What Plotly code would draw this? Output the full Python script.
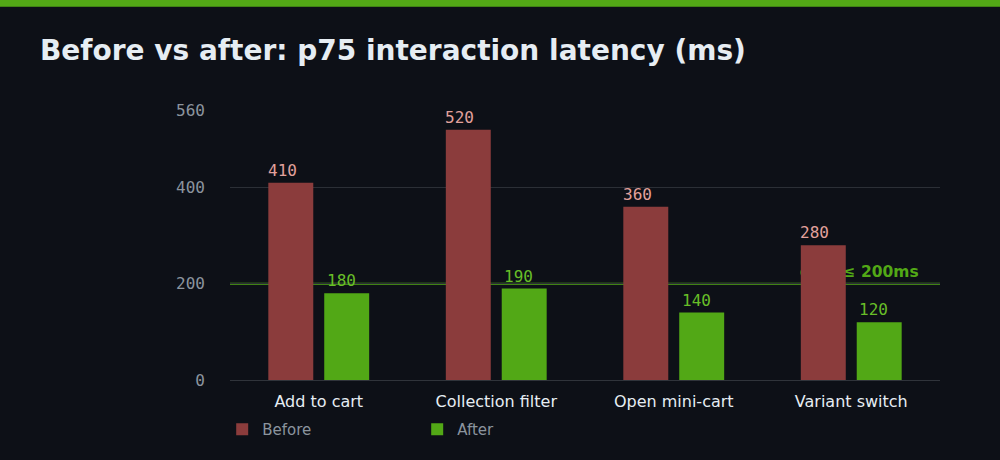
import plotly.graph_objects as go

categories = ['Add to cart', 'Collection filter', 'Open mini-cart', 'Variant switch']
before = [410, 520, 360, 280]
after = [180, 190, 140, 120]
goal = 200
y_ticks = [0, 200, 400, 560]

bg = '#0d1017'
red = '#8b3c3c'
green = '#52a816'

fig = go.Figure()

fig.add_trace(go.Bar(x=categories, y=before, name='Before', marker_color=red,
                     marker_line_width=0))
fig.add_trace(go.Bar(x=categories, y=after, name='After', marker_color=green,
                     marker_line_width=0))

# value labels, left-aligned on each bar
for cat, b, a in zip(categories, before, after):
    fig.add_annotation(x=cat, y=b, text=str(b), showarrow=False, xanchor='left',
                       yanchor='bottom', xshift=-53, yshift=1,
                       font=dict(family='DejaVu Sans Mono', size=16, color='#e2a19c'))
    fig.add_annotation(x=cat, y=a, text=str(a), showarrow=False, xanchor='left',
                       yanchor='bottom', xshift=6, yshift=1,
                       font=dict(family='DejaVu Sans Mono', size=16, color='#68be28'))

# goal line, behind the bars
fig.add_shape(type='line', xref='paper', x0=0, x1=1, y0=goal, y1=goal,
              line=dict(color=green, width=2), layer='below')
# its label, ending a little before the right edge (also behind the bars)
fig.add_shape(type='line', xref='paper', x0=0, x1=0.97, y0=goal, y1=goal,
              line=dict(color='rgba(0,0,0,0)', width=0), layer='below',
              label=dict(text='goal ≤ 200ms', textposition='end', xanchor='right',
                         yanchor='bottom', padding=4,
                         font=dict(family='DejaVu Sans', size=15.5, color=green,
                                   weight='bold')))

# green strip across the top
fig.add_shape(type='rect', xref='paper', yref='paper', x0=-0.4, x1=1.1,
              y0=1.382, y1=1.5, fillcolor=green, line_width=0, layer='below')

fig.update_layout(
    width=1000, height=460,
    paper_bgcolor=bg, plot_bgcolor=bg,
    margin=dict(l=230, r=60, t=110, b=80),
    title=dict(text='<b>Before vs after: p75 interaction latency (ms)</b>',
               x=0.04, xanchor='left', y=0.89, yanchor='middle',
               font=dict(family='DejaVu Sans', size=28, color='#e6edf3')),
    barmode='group', bargap=0.37, bargroupgap=0.196,
    xaxis=dict(tickfont=dict(family='DejaVu Sans', size=16, color='#e6edf3'),
               showgrid=False, showline=False, ticks='', ticklabelstandoff=10,
               automargin=False),
    yaxis=dict(range=[0, 561], tickvals=y_ticks, showgrid=True,
               gridcolor='#2b2f36', gridwidth=1, zeroline=True,
               zerolinecolor='#30343b', zerolinewidth=1,
               tickfont=dict(family='DejaVu Sans Mono', size=16, color='#8b949e'),
               ticklabelstandoff=24, automargin=False),
    legend=dict(orientation='h', x=-0.011, xanchor='left', y=-0.122, yanchor='top',
                entrywidth=150, font=dict(family='DejaVu Sans', size=15, color='#8b949e'),
                bgcolor='rgba(0,0,0,0)'),
)

fig.write_html('out.html', config={'displayModeBar': False},
               post_script="document.body.style.margin='0';")
